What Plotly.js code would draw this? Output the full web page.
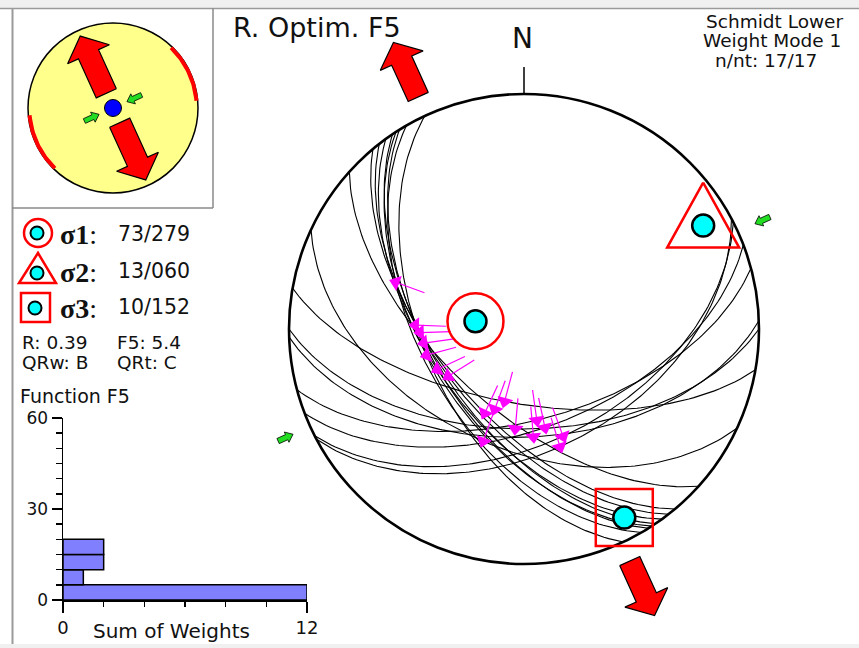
<!DOCTYPE html>
<html><head><meta charset="utf-8">
<script src="https://cdn.plot.ly/plotly-3.0.1.min.js"></script>
<style>html,body{margin:0;padding:0;background:#fff;overflow:hidden}</style>
</head><body>
<div id="chart" style="width:859px;height:648px"></div>
<script>
// ---- Fault-slip data set (dip direction / dip of each plane, trend of its slip line) ----
const faultDipDir = [245, 238, 237, 236, 234, 232, 230, 222, 240, 190, 180, 178, 165, 159, 153, 152, 205];
const faultDip    = [ 55,  57,  56,  58,  57,  59,  60,  62,  54,  64,  55,  52,  58,  55,  50,  47,  48];
const slipTrend   = [272, 262, 255, 268, 245, 238, 205, 200, 290, 195, 185, 175, 172, 168, 160, 163, 200];

// ---- Reduced stress tensor (plunge / trend of principal axes) ----
const sigmaNames  = ['σ1', 'σ2', 'σ3'];
const sigmaPlunge = [73, 13, 10];
const sigmaTrend  = [279, 60, 152];
const stressRatio = 0.39;
const f5Value = 5.4;
const qualityRw = 'B';
const qualityRt = 'C';

// Horizontal stress directions
const shMinAz = 155.5;          // extension (red arrows)
const shMaxAz = 65.5;           // compression (green arrows)
const shMaxRange = [44, 85];    // SHmax uncertainty arc

// F5 misfit histogram: bin centres and summed weights
const f5BinCenters = [2.5, 7.5, 12.5, 17.5];
const f5BinWeights = [12, 1, 2, 2];

const headerLines = ['Schmidt Lower', 'Weight Mode 1', 'n/nt: 17/17'];

// ---- geometry helpers ----
const W = 859, H = 648;
const d2r = Math.PI / 180;
const PX = x => x / W;
const PY = y => 1 - y / H;

// Lambert equal-area (Schmidt) lower hemisphere, unit primitive
function proj(plunge, trend) {
  const r = Math.SQRT2 * Math.sin((90 - plunge) / 2 * d2r);
  return [r * Math.sin(trend * d2r), r * Math.cos(trend * d2r)];
}
function planePlunge(dd, dip, trend) {
  return Math.atan(Math.tan(dip * d2r) * Math.cos((trend - dd) * d2r)) / d2r;
}
function greatCircle(dd, dip) {
  const xs = [], ys = [];
  for (let a = -90; a <= 90; a += 1) {
    const t = dd + a;
    const [x, y] = proj(planePlunge(dd, dip, t), t);
    xs.push(x); ys.push(y);
  }
  return [xs, ys];
}
// block arrow along azimuth az, tail at radius r0, tip at radius r1
function arrowPoly(az, r0, r1, hs, hh, hl) {
  const u = [Math.sin(az * d2r), Math.cos(az * d2r)];
  const n = [Math.cos(az * d2r), -Math.sin(az * d2r)];
  const s = Math.sign(r1 - r0);
  const P = (r, o) => [u[0] * r + n[0] * o, u[1] * r + n[1] * o];
  const hb = r1 - s * hl;
  const pts = [P(r0, hs), P(hb, hs), P(hb, hh), P(r1, 0), P(hb, -hh), P(hb, -hs), P(r0, -hs), P(r0, hs)];
  return [pts.map(p => p[0]), pts.map(p => p[1])];
}
// axis box from a pixel rectangle, a pixel centre and pixels per unit
function axisBox(x0, x1, y0, y1, cx, cy, unit) {
  return {
    x: {domain: [PX(x0), PX(x1)], range: [(x0 - cx) / unit, (x1 - cx) / unit]},
    y: {domain: [PY(y1), PY(y0)], range: [(cy - y1) / unit, (cy - y0) / unit]}
  };
}
const hidden = {visible: false, showgrid: false, zeroline: false, fixedrange: true};

// main stereonet: centre (524,329), radius 235 px
const mainBox = axisBox(190, 857, 10, 645, 524, 329, 235);
// small stereonet: centre (113,108), radius 85 px
const insetBox = axisBox(14, 212, 10, 206, 113, 108, 85);

const traces = [];

// great circles
{
  const xs = [], ys = [];
  faultDipDir.forEach((dd, i) => {
    const [gx, gy] = greatCircle(dd, faultDip[i]);
    xs.push(...gx, null); ys.push(...gy, null);
  });
  traces.push({type: 'scatter', mode: 'lines', x: xs, y: ys, xaxis: 'x', yaxis: 'y',
    line: {color: '#000', width: 1.1}, hoverinfo: 'skip'});
}

// slip lineations with movement arrows (head points along the slip trend)
{
  const hx = [], hy = [], sx = [], sy = [], ang = [];
  faultDipDir.forEach((dd, i) => {
    const t = slipTrend[i];
    const [x, y] = proj(planePlunge(dd, faultDip[i], t), t);
    hx.push(x); hy.push(y); ang.push(t);
    const r = Math.hypot(x, y), k = 1 - 0.13 / r;
    sx.push(x, x * k, null); sy.push(y, y * k, null);
  });
  traces.push({type: 'scatter', mode: 'lines', x: sx, y: sy, xaxis: 'x', yaxis: 'y',
    line: {color: '#ff00ff', width: 1.2}, hoverinfo: 'skip'});
  traces.push({type: 'scatter', mode: 'markers', x: hx, y: hy, xaxis: 'x', yaxis: 'y',
    marker: {symbol: 'triangle-up', size: 14, color: '#ff00ff', angle: ang, line: {width: 0}}, hoverinfo: 'skip'});
}

// horizontal extension arrows (red) and compression arrows (green), main net
[shMinAz, shMinAz + 180].forEach(az => {
  const [x, y] = arrowPoly(az, 1.085, 1.34, 0.047, 0.1, 0.085);
  traces.push({type: 'scatter', mode: 'lines', x, y, xaxis: 'x', yaxis: 'y', fill: 'toself',
    fillcolor: '#ff0000', line: {color: '#000', width: 1.2}, hoverinfo: 'skip'});
});
[shMaxAz, shMaxAz + 180].forEach(az => {
  const [x, y] = arrowPoly(az, 1.15, 1.08, 0.012, 0.024, 0.03);
  traces.push({type: 'scatter', mode: 'lines', x, y, xaxis: 'x', yaxis: 'y', fill: 'toself',
    fillcolor: '#22dd22', line: {color: '#000', width: 0.8}, hoverinfo: 'skip'});
});

// principal stress axes
const sxy = sigmaPlunge.map((p, i) => proj(p, sigmaTrend[i]));
traces.push({type: 'scatter', mode: 'markers', x: sxy.map(p => p[0]), y: sxy.map(p => p[1]),
  xaxis: 'x', yaxis: 'y', marker: {symbol: 'circle', size: 22, color: '#00ffff', line: {color: '#000', width: 2.5}},
  hoverinfo: 'skip'});
traces.push({type: 'scatter', mode: 'markers', x: [sxy[0][0]], y: [sxy[0][1]], xaxis: 'x', yaxis: 'y',
  marker: {symbol: 'circle-open', size: 56, color: '#ff0000', line: {width: 2.5}}, hoverinfo: 'skip'});
traces.push({type: 'scatter', mode: 'markers', x: [sxy[2][0]], y: [sxy[2][1]], xaxis: 'x', yaxis: 'y',
  marker: {symbol: 'square-open', size: 57, color: '#ff0000', line: {width: 2.5}}, hoverinfo: 'skip'});
{
  const u = 1 / 235, [cx, cy] = sxy[1];
  const tx = [0, -36, 36, 0].map(v => cx + v * u), ty = [43, -22, -22, 43].map(v => cy + v * u);
  traces.push({type: 'scatter', mode: 'lines', x: tx, y: ty, xaxis: 'x', yaxis: 'y',
    line: {color: '#ff0000', width: 2.5}, hoverinfo: 'skip'});
}

// ---- small stereonet ----
[shMaxRange, shMaxRange.map(v => v + 180)].forEach(([a0, a1]) => {
  const xs = [], ys = [];
  for (let a = a0; a <= a1; a += 1) { xs.push(0.985 * Math.sin(a * d2r)); ys.push(0.985 * Math.cos(a * d2r)); }
  traces.push({type: 'scatter', mode: 'lines', x: xs, y: ys, xaxis: 'x2', yaxis: 'y2',
    line: {color: '#ff0000', width: 4}, hoverinfo: 'skip'});
});
[shMinAz, shMinAz + 180].forEach(az => {
  const [x, y] = arrowPoly(az, 0.19, 0.93, 0.13, 0.27, 0.235);
  traces.push({type: 'scatter', mode: 'lines', x, y, xaxis: 'x2', yaxis: 'y2', fill: 'toself',
    fillcolor: '#ff0000', line: {color: '#000', width: 1.2}, hoverinfo: 'skip'});
});
[shMaxAz, shMaxAz + 180].forEach(az => {
  const [x, y] = arrowPoly(az, 0.37, 0.18, 0.03, 0.065, 0.08);
  traces.push({type: 'scatter', mode: 'lines', x, y, xaxis: 'x2', yaxis: 'y2', fill: 'toself',
    fillcolor: '#22dd22', line: {color: '#000', width: 0.8}, hoverinfo: 'skip'});
});
traces.push({type: 'scatter', mode: 'markers', x: [0], y: [0], xaxis: 'x2', yaxis: 'y2',
  marker: {symbol: 'circle', size: 17, color: '#0000ff', line: {color: '#000', width: 1}}, hoverinfo: 'skip'});

// ---- F5 histogram ----
traces.push({type: 'bar', orientation: 'h', x: f5BinWeights, y: f5BinCenters, width: 5,
  xaxis: 'x3', yaxis: 'y3', marker: {color: '#8080ff', line: {color: '#000', width: 1.5}}, hoverinfo: 'skip'});

// ---- annotations ----
const txt = (text, x, y, size, xanchor, extra) => Object.assign({
  text, x: PX(x), y: PY(y), xref: 'paper', yref: 'paper', showarrow: false, borderpad: 0,
  xanchor: xanchor || 'left', yanchor: 'middle', font: {size, color: '#111', family: 'DejaVu Sans'}
}, extra || {});

const annotations = [
  txt('R. Optim. F5', 232, 28, 27),
  txt('N', 522, 38, 28, 'center'),
  txt(headerLines[0], 774, 21, 18.5, 'center'),
  txt(headerLines[1], 772, 41, 18.5, 'center'),
  txt(headerLines[2], 766, 61, 18.5, 'center'),
  txt('R: ' + stressRatio.toFixed(2), 21, 342, 18.5),
  txt('F5: ' + f5Value.toFixed(1), 116, 342, 18.5),
  txt('QRw: ' + qualityRw, 21, 362, 18.5),
  txt('QRt: ' + qualityRt, 116, 362, 18.5),
  txt('Function F5', 19, 396, 19),
  txt('Sum of Weights', 171, 631, 20, 'center')
];
const rowY = [234, 271, 307];
sigmaNames.forEach((s, i) => {
  annotations.push(txt('<b>' + s + '</b>:', 59, rowY[i] + 1, 28, 'left',
    {font: {size: 28, color: '#111', family: 'Liberation Serif, Times New Roman, serif'}}));
  annotations.push(txt(String(sigmaPlunge[i]).padStart(2, '0') + '/' + String(sigmaTrend[i]).padStart(3, '0'),
    117, rowY[i], 20.5));
});

// ---- shapes: frame, primitives, legend symbols ----
const shapes = [
  {type: 'rect', xref: 'paper', yref: 'paper', x0: 0, x1: 1, y0: PY(8), y1: 1, fillcolor: '#f0f0f0', line: {width: 0}, layer: 'below'},
  {type: 'rect', xref: 'paper', yref: 'paper', x0: 0, x1: 1, y0: 0, y1: PY(644), fillcolor: '#f0f0f0', line: {width: 0}, layer: 'below'},
  {type: 'line', xref: 'paper', yref: 'paper', x0: 0, x1: 1, y0: PY(8.5), y1: PY(8.5), line: {color: '#9a9a9a', width: 1.5}},
  {type: 'line', xref: 'paper', yref: 'paper', x0: PX(12.5), x1: PX(12.5), y0: PY(8), y1: PY(644), line: {color: '#9a9a9a', width: 2}},
  {type: 'line', xref: 'paper', yref: 'paper', x0: PX(213), x1: PX(213), y0: PY(8), y1: PY(208), line: {color: '#8a8a8a', width: 1.5}},
  {type: 'line', xref: 'paper', yref: 'paper', x0: PX(12), x1: PX(213), y0: PY(208), y1: PY(208), line: {color: '#8a8a8a', width: 1.5}},
  // main primitive and north tick
  {type: 'circle', xref: 'x', yref: 'y', x0: -1, x1: 1, y0: -1, y1: 1, line: {color: '#000', width: 2.6}, layer: 'below'},
  {type: 'line', xref: 'x', yref: 'y', x0: 0, x1: 0, y0: 1, y1: 1.115, line: {color: '#000', width: 1.5}},
  // small stereonet disc
  {type: 'circle', xref: 'x2', yref: 'y2', x0: -1, x1: 1, y0: -1, y1: 1, fillcolor: '#ffff8c', line: {color: '#000', width: 1.5}, layer: 'below'}
];
const pcirc = (cx, cy, r, fill, color, w) => ({type: 'circle', xref: 'paper', yref: 'paper',
  x0: PX(cx - r), x1: PX(cx + r), y0: PY(cy + r), y1: PY(cy - r), fillcolor: fill, line: {color, width: w}});
shapes.push(pcirc(38, 233, 14, 'rgba(0,0,0,0)', '#ff0000', 2.5));
shapes.push({type: 'path', xref: 'paper', yref: 'paper',
  path: `M${PX(38)},${PY(253)} L${PX(56)},${PY(283)} L${PX(19)},${PY(283)} Z`, line: {color: '#ff0000', width: 2.5}});
shapes.push({type: 'rect', xref: 'paper', yref: 'paper', x0: PX(21), x1: PX(50), y0: PY(322), y1: PY(293), line: {color: '#ff0000', width: 2.5}});
[[37, 233], [37, 273], [35, 308]].forEach(([x, y]) => shapes.push(pcirc(x, y, 6.5, '#00ffff', '#000', 2)));

const layout = {
  width: W, height: H, margin: {l: 0, r: 0, t: 0, b: 0},
  paper_bgcolor: '#fff', plot_bgcolor: 'rgba(0,0,0,0)', showlegend: false,
  font: {family: 'DejaVu Sans', color: '#111'},
  xaxis: Object.assign({}, hidden, mainBox.x, {anchor: 'y'}),
  yaxis: Object.assign({}, hidden, mainBox.y, {anchor: 'x'}),
  xaxis2: Object.assign({}, hidden, insetBox.x, {anchor: 'y2'}),
  yaxis2: Object.assign({}, hidden, insetBox.y, {anchor: 'x2'}),
  xaxis3: {domain: [PX(63), PX(307)], range: [0, 12], anchor: 'y3', fixedrange: true,
    showgrid: false, zeroline: false, showline: true, linecolor: '#000', linewidth: 1.5,
    tickmode: 'array', tickvals: [0, 12], ticktext: ['0', '12'], ticks: 'outside', ticklen: 11,
    tickwidth: 1.5, tickcolor: '#000', tickfont: {size: 18, color: '#111'},
    minor: {tickmode: 'linear', tick0: 0, dtick: 2, ticks: 'outside', ticklen: 5, tickwidth: 1.5, tickcolor: '#000'}},
  yaxis3: {domain: [PY(600), PY(418)], range: [0, 60], anchor: 'x3', fixedrange: true,
    showgrid: false, zeroline: false, showline: true, linecolor: '#000', linewidth: 1.5,
    tickmode: 'array', tickvals: [0, 30, 60], ticks: 'outside', ticklen: 10,
    tickwidth: 1.5, tickcolor: '#000', tickfont: {size: 17, color: '#111'},
    minor: {tickmode: 'linear', tick0: 0, dtick: 5, ticks: 'outside', ticklen: 6, tickwidth: 1.5, tickcolor: '#000'}},
  bargap: 0,
  shapes, annotations
};

Plotly.newPlot('chart', traces, layout, {staticPlot: true, displayModeBar: false});
</script>
</body></html>
